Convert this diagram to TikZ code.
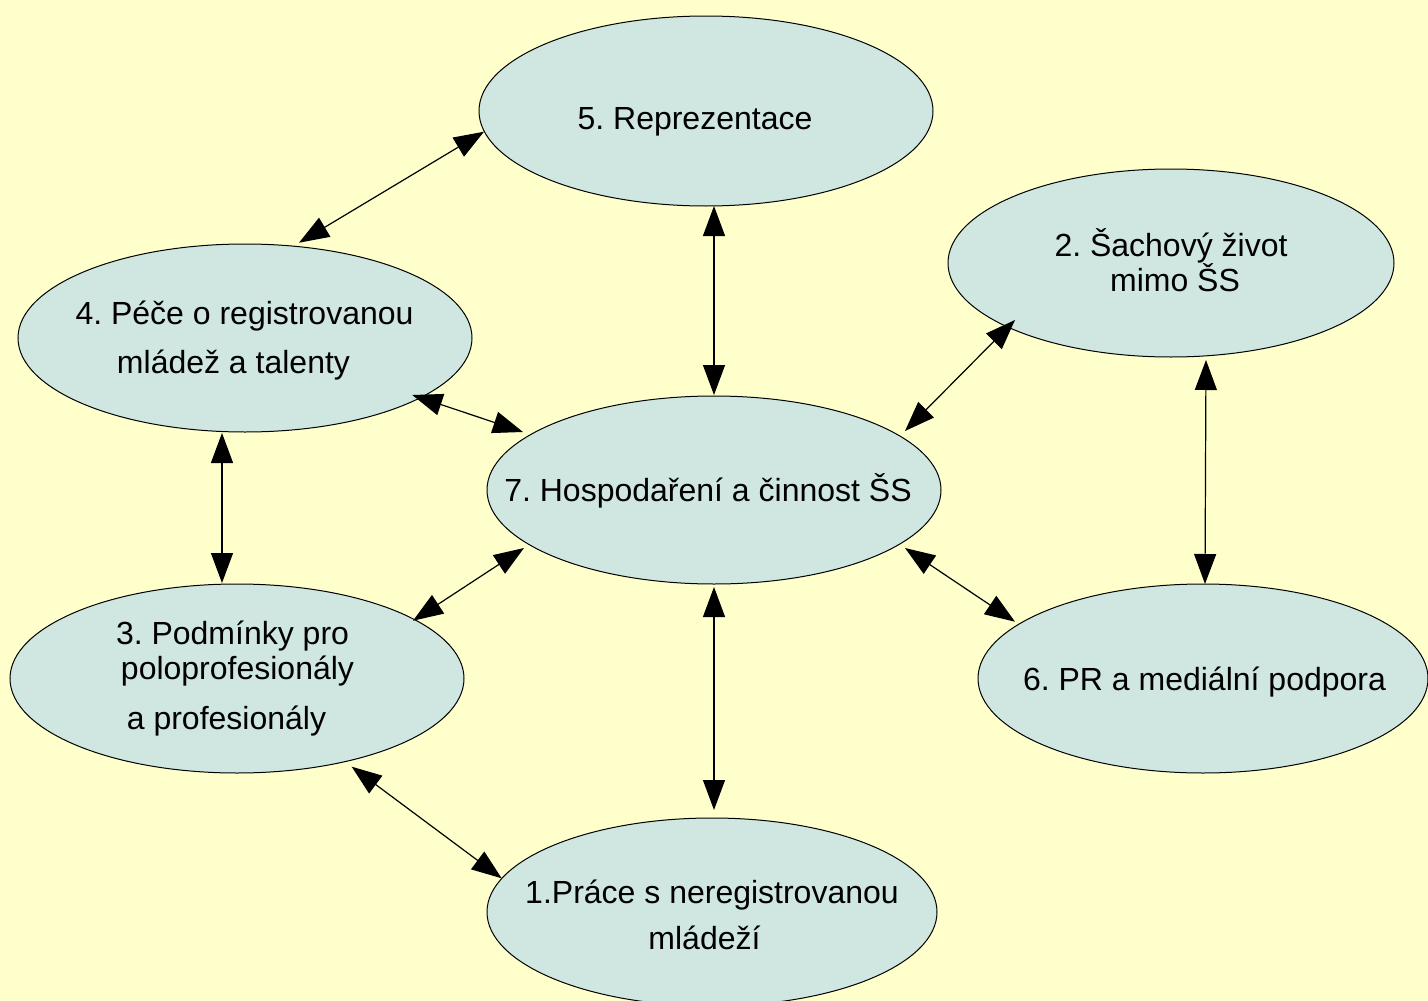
\documentclass[tikz,border=0pt]{standalone}
\usepackage{fontspec}
\setmainfont{Liberation Sans}
\usetikzlibrary{shapes.geometric,arrows.meta,calc}
\definecolor{bgyellow}{RGB}{255,255,204}
\definecolor{ellfill}{RGB}{207,230,225}
\frenchspacing
\begin{document}
\begin{tikzpicture}[x=1pt,y=-1pt,
  ell/.style={ellipse,draw=black,line width=1pt,fill=ellfill,inner sep=0pt,outer sep=0pt},
  txt/.style={anchor=base,inner sep=0pt,font=\fontsize{32}{36}\selectfont},
  conn/.style={<->,>={Triangle[length=30pt,width=22pt]},line width=1.2pt,black}]
\useasboundingbox (0,0) rectangle (1428,1001);
\clip (0,0) rectangle (1428,1001);
\fill[bgyellow] (0,0) rectangle (1428,1001);
% ellipses
\node[ell,minimum width=454pt,minimum height=190pt] (n5) at (706,111) {};
\node[ell,minimum width=446pt,minimum height=188pt] (n2) at (1171,263) {};
\node[ell,minimum width=454pt,minimum height=188pt] (n4) at (245,338) {};
\node[ell,minimum width=454pt,minimum height=188pt] (n7) at (714,490) {};
\node[ell,minimum width=454pt,minimum height=189pt] (n3) at (237,678.5) {};
\node[ell,minimum width=450pt,minimum height=189pt] (n6) at (1203,678.5) {};
\node[ell,minimum width=450pt,minimum height=188pt] (n1) at (712,912) {};
% texts
\node[txt] (t5) at (695,129) {5. Reprezentace};
\node[txt] (t2a) at (1171,256) {2. Šachový život};
\node[txt] (t2b) at (1175,291) {mimo ŠS};
\node[txt] (t4a) at (244.5,324.5) {4. Péče o registrovanou};
\node[txt] (t4b) at (233.5,373.5) {mládež a talenty};
\node[txt] (t7) at (708,501.5) {7. Hospodaření a činnost ŠS};
\node[txt] (t3a) at (232.5,644) {3. Podmínky pro};
\node[txt] (t3b) at (237.5,679) {poloprofesionály};
\node[txt] (t3c) at (226.5,729) {a profesionály};
\node[txt] (t6) at (1204.5,690.5) {6. PR a mediální podpora};
\node[txt] (t1a) at (712,903) {1.Práce s neregistrovanou};
\node[txt] (t1b) at (704.5,949) {mládeží};
% connectors (end points given relative to the ellipse centres)
\draw[conn] ($(n5)+(-222,20.7)$) -- ($(n4)+(54,-95.3)$);
\draw[conn] ($(n5)+(8,95)$) -- ($(n7)+(0,-95)$);
\draw[conn] ($(n2)+(-156,57)$) -- ($(n7)+(191,-59)$);
\draw[conn] ($(n2)+(35,97)$) -- ($(n6)+(2,-94.5)$);
\draw[conn] ($(n4)+(167.3,57)$) -- ($(n7)+(-191,-58)$);
\draw[conn] ($(n4)+(-23,95)$) -- ($(n3)+(-15,-95.5)$);
\draw[conn] ($(n7)+(-190,58)$) -- ($(n3)+(176,-57.8)$);
\draw[conn] ($(n7)+(191,58)$) -- ($(n6)+(-188,-56.8)$);
\draw[conn] ($(n7)+(0,97)$) -- ($(n1)+(2,-102)$);
\draw[conn] ($(n3)+(114.7,88.2)$) -- ($(n1)+(-210.3,-33.7)$);
\end{tikzpicture}
\end{document}
